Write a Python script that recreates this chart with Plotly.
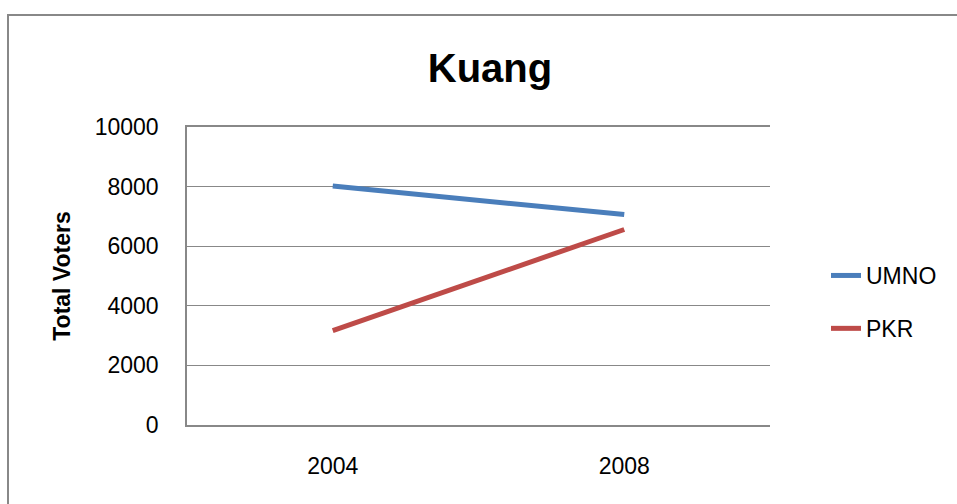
import plotly.graph_objects as go

years = ["2004", "2008"]
umno = [8020, 7060]
pkr = [3170, 6560]
y_ticks = [0, 2000, 4000, 6000, 8000, 10000]
y_tick_labels = ["0", "2000", "4000", "6000", "8000", "10000"]

W, H = 957, 504
L, R, T, B = 187, 770, 127, 425

fig = go.Figure()
fig.add_trace(go.Scatter(x=years, y=umno, mode="lines", name="UMNO",
                         line=dict(color="#4A7EBB", width=5), legendgroup="a"))
fig.add_trace(go.Scatter(x=years, y=pkr, mode="lines", name="PKR",
                         line=dict(color="#BE4B48", width=5), legendgroup="b"))

font = "Liberation Sans"
fig.update_layout(
    width=W, height=H,
    margin=dict(l=L, r=W - R, t=T, b=H - B, pad=0),
    paper_bgcolor="white", plot_bgcolor="white",
    font=dict(family=font, size=23, color="black"),
    title=dict(text="<b>Kuang</b>", x=490 / W, xanchor="center",
               y=1 - 68 / H, yanchor="middle", font=dict(size=40, family=font)),
    xaxis=dict(type="category", range=[-0.5, 1.5], showgrid=False,
               showline=True, mirror=True, linecolor="#888", linewidth=1.5,
               ticks="", tickfont=dict(size=23), ticklabelstandoff=20),
    yaxis=dict(range=[0, 10000], tickvals=y_ticks, ticktext=y_tick_labels,
               showgrid=True, gridcolor="#888", gridwidth=1.3, zeroline=False,
               showline=True, linecolor="#888", linewidth=1.5,
               ticks="", tickfont=dict(size=23), ticklabelstandoff=22,
               title=dict(text="<b>Total Voters</b>", font=dict(size=23), standoff=18)),
    legend=dict(x=(826 - L) / (R - L), xanchor="left", y=(B - 302) / (B - T),
                yanchor="middle", tracegroupgap=20, font=dict(size=23),
                bgcolor="rgba(0,0,0,0)"),
    shapes=[dict(type="rect", xref="paper", yref="paper",
                 x0=(8 - L) / (R - L), x1=(970 - L) / (R - L),
                 y0=(B - 520) / (B - T), y1=(B - 15) / (B - T),
                 line=dict(color="#888", width=2), fillcolor="rgba(0,0,0,0)",
                 layer="below")],
)

fig.write_html("out.html")
